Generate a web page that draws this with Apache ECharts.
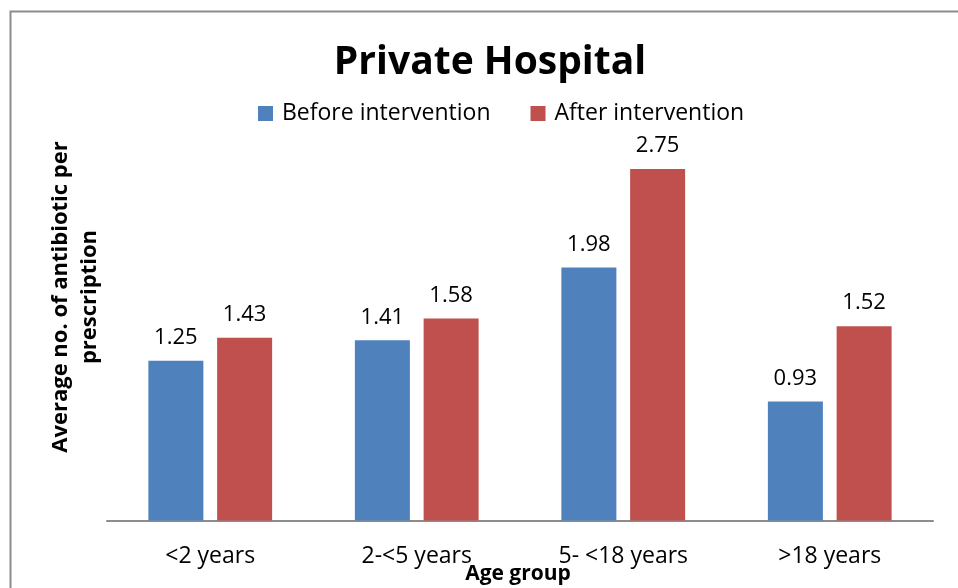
<!DOCTYPE html>
<html><head><meta charset="utf-8">
<script src="https://cdn.jsdelivr.net/npm/echarts@6/dist/echarts.min.js"></script>
<style>html,body{margin:0;padding:0;background:#fff}#c{width:958px;height:588px}</style>
</head><body><div id="c"></div>
<script>
const categories = ['<2 years', '2-<5 years', '5- <18 years', '>18 years'];
const beforeValues = [1.25, 1.41, 1.98, 0.93];
const afterValues = [1.43, 1.58, 2.75, 1.52];
const seriesNames = ['Before intervention', 'After intervention'];
const xAxisTitle = 'Age group';
const yAxisTitle = 'Average no. of antibiotic per\nprescription';
const FONT = '"Open Sans", sans-serif';
const chart = echarts.init(document.getElementById('c'));
const labelStyle = {show: true, position: 'top', distance: 12, fontSize: 22, color: '#000', fontFamily: FONT, formatter: p => p.value.toFixed(2)};
chart.setOption({
  animation: false,
  title: {text: 'Private Hospital', left: 485, top: 38, textAlign: 'center', textStyle: {fontSize: 39, fontWeight: 'bold', color: '#000', fontFamily: FONT}},
  legend: {top: 97, left: 253, itemWidth: 15, itemHeight: 15, itemGap: 40, icon: 'rect', textStyle: {fontSize: 23, color: '#000', fontFamily: FONT, padding: [0, 0, 0, 4]}, data: seriesNames},
  grid: {left: 107, right: 25, top: 137, bottom: 67.5, outerBoundsMode: 'none', containLabel: false},
  graphic: [
    {type: 'rect', shape: {x: 10.5, y: 11.5, width: 1000, height: 700}, style: {fill: 'none', stroke: '#8c8c8c', lineWidth: 2}, silent: true},
    {type: 'text', x: 75, y: 297, rotation: Math.PI / 2, style: {text: yAxisTitle, fontSize: 22, fontWeight: 'bold', fontFamily: FONT, fill: '#000', align: 'center', verticalAlign: 'middle', lineHeight: 29}},
    {type: 'text', x: 518, y: 574, style: {text: xAxisTitle, fontSize: 21, fontWeight: 'bold', fontFamily: FONT, fill: '#000', align: 'center', verticalAlign: 'middle'}}
  ],
  xAxis: {type: 'category', data: categories, axisTick: {show: false},
    axisLine: {lineStyle: {color: '#8c8c8c', width: 2}},
    axisLabel: {fontSize: 23, color: '#000', margin: 24, fontFamily: FONT}},
  yAxis: {type: 'value', min: 0, max: 3, show: false},
  series: [
    {name: seriesNames[0], type: 'bar', data: beforeValues, barWidth: 55, barGap: '25%', itemStyle: {color: '#4F81BD'}, label: labelStyle},
    {name: seriesNames[1], type: 'bar', data: afterValues, barWidth: 55, itemStyle: {color: '#C0504D'}, label: labelStyle}
  ]
});
</script></body></html>
